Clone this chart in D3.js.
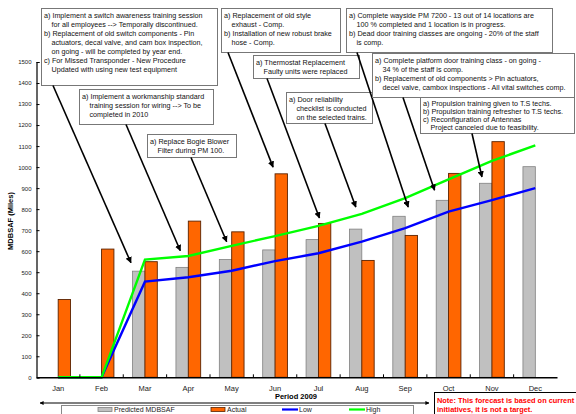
<!DOCTYPE html>
<html>
<head>
<meta charset="utf-8">
<script src="https://cdn.jsdelivr.net/npm/d3@7"></script>
<style>
  body { margin: 0; background: #fff; }
  svg { display: block; font-family: "Liberation Sans", Arial, sans-serif; }
</style>
</head>
<body>
<div id="chart"></div>
<script>
var width = 576,
    height = 414,
    margin = {top: 62, left: 36.5, right: 19, bottom: 36.7};

// data
var months = ["Jan","Feb","Mar","Apr","May","Jun","Jul","Aug","Sep","Oct","Nov","Dec"];
var predicted = [null, null, 505, 523, 560, 606, 655, 705, 766, 842, 923, 1002];
var actual = [370, 610, 550, 743, 692, 968, 732, 556, 675, 970, 1121, null];
var low = [0, 0, 455, 476, 507, 553, 590, 645, 710, 788, 843, 900];
var high = [0, 0, 560, 577, 625, 672, 720, 777, 852, 942, 1030, 1103];
var yTicks = d3.range(0, 1501, 100);

var noteTexts = [
  ["a) Implement a switch awareness training session", "   for all employees  --> Temporally discontinued.",
   "b) Replacement of old switch components - Pin", "   actuators, decal valve, and cam box inspection,",
   "   on going - will be completed by year end.", "c) For Missed Transponder - New Procedure",
   "   Updated with using new test equipment"],
  ["a) Implement a workmanship standard", "   training session for wiring --> To be", "   completed in 2010"],
  ["a) Replace Bogie Blower", "   Filter during PM 100."],
  ["a) Replacement of old style", "   exhaust - Comp.", "b) Installation of new robust brake", "   hose - Comp."],
  ["a) Thermostat Replacement", "   Faulty units were replaced"],
  ["a) Door reliability", "   checklist is conducted", "   on the selected trains."],
  ["a) Complete wayside PM 7200 - 13 out of 14 locations are", "   100 % completed and 1 location is in progress.",
   "b) Dead door training classes are ongoing - 20% of the staff", "   is comp."],
  ["a) Complete platform door training class - on going -", "   34 % of the staff is comp.",
   "b) Replacement of old components > Pin actuators,", "   decel valve, cambox inspections - All vital switches comp."],
  ["a) Propulsion training given to T.S techs.", "b) Propulsion training refresher to T.S techs.",
   "c) Reconfiguration of Antennas", "   Project canceled due to feasibility."]
];
// which month / value each note points at
var noteMonth = ["Mar","Apr","May","Jun","Jul","Aug","Sep","Oct","Nov"];
var noteValue = [545, 602, 645, 1000, 758, 810, 810, 890, 953];

// box layout: x, y, w, h, arrow start x, arrow tip dx, first baseline, line gap
var noteBoxes = [
  [41, 8, 176, 77, 53, -14, 9.5, 9],
  [79, 89, 134, 35, 126, -8, 9.5, 9],
  [147, 134, 89, 23, 191, -5, 9.5, 9],
  [221, 8, 119, 44, 228, -2, 9.5, 9],
  [253, 55, 106, 23, 267, 1, 9.5, 9],
  [286, 92, 86, 31, 325, -6, 9.5, 9],
  [346, 8, 206, 44, 357, 3, 9.5, 9],
  [372, 53, 202, 44, 403, -14, 10, 9],
  [420, 97, 154, 36, 472, -10, 8.8, 8.2]
];

var svg = d3.select("#chart").append("svg")
  .attr("width", width)
  .attr("height", height);

svg.append("defs").append("marker")
  .attr("id", "head")
  .attr("viewBox", "0 0 10 10")
  .attr("refX", 9).attr("refY", 5)
  .attr("markerWidth", 4).attr("markerHeight", 4)
  .attr("orient", "auto-start-reverse")
  .append("path")
  .attr("d", "M0,0L10,5L0,10z")
  .attr("fill", "#000");

var x = d3.scaleBand()
  .domain(months)
  .range([margin.left, width - margin.right]);

var y = d3.scaleLinear()
  .domain([0, 1500])
  .range([height - margin.bottom, margin.top]);

var bw = x.bandwidth() * 0.285;
var cx = function(m) { return x(m) + x.bandwidth() / 2; };

// y axis
var yAxis = svg.append("g")
  .attr("transform", "translate(" + margin.left + ",0)")
  .call(d3.axisLeft(y).tickValues(yTicks).tickFormat(d3.format("d")).tickSize(-3).tickPadding(5));
yAxis.select(".domain").attr("stroke", "#000").attr("stroke-width", 1.2);
yAxis.selectAll("text").style("font-size", "6px").attr("fill", "#222");

svg.append("text")
  .attr("transform", "translate(13,221) rotate(-90)")
  .attr("text-anchor", "middle")
  .style("font-size", "7.5px")
  .style("font-weight", "bold")
  .text("MDBSAF (Miles)");

// bars
svg.selectAll("rect.pred")
  .data(months.filter(function(m, i) { return predicted[i] != null; }))
  .enter().append("rect")
  .attr("class", "pred")
  .attr("x", function(m) { return cx(m) - bw; })
  .attr("y", function(m) { return y(predicted[months.indexOf(m)]); })
  .attr("width", bw)
  .attr("height", function(m) { return y(0) - y(predicted[months.indexOf(m)]); })
  .attr("fill", "#c0c0c0")
  .attr("stroke", "#808080")
  .attr("stroke-width", 0.8);

svg.selectAll("rect.act")
  .data(months.filter(function(m, i) { return actual[i] != null; }))
  .enter().append("rect")
  .attr("class", "act")
  .attr("x", function(m) { return cx(m); })
  .attr("y", function(m) { return y(actual[months.indexOf(m)]); })
  .attr("width", bw)
  .attr("height", function(m) { return y(0) - y(actual[months.indexOf(m)]); })
  .attr("fill", "#ff6600")
  .attr("stroke", "#5a2200")
  .attr("stroke-width", 0.9);

// lines
var line = d3.line()
  .x(function(d, i) { return cx(months[i]); })
  .y(function(d) { return y(d); });

svg.append("path").datum(low)
  .attr("d", line).attr("fill", "none")
  .attr("stroke", "#0000ff").attr("stroke-width", 2.4);
svg.append("path").datum(high)
  .attr("d", line).attr("fill", "none")
  .attr("stroke", "#00ff00").attr("stroke-width", 2.4);

// x axis
var xAxis = svg.append("g")
  .attr("transform", "translate(0," + y(0) + ")")
  .call(d3.axisBottom(x).tickSize(0).tickPadding(8));
xAxis.select(".domain").attr("stroke", "#000").attr("stroke-width", 1.5);
xAxis.selectAll("text").style("font-size", "7.5px").attr("fill", "#222");
xAxis.selectAll(".sep")
  .data(months.slice(1))
  .enter().append("line")
  .attr("x1", function(m) { return x(m); })
  .attr("x2", function(m) { return x(m); })
  .attr("y1", 0).attr("y2", -3)
  .attr("stroke", "#000");

svg.append("text")
  .attr("x", 296).attr("y", 399)
  .attr("text-anchor", "middle")
  .style("font-size", "7.5px")
  .style("font-weight", "bold")
  .text("Period 2009");

// annotations
noteTexts.forEach(function(lines, i) {
  var b = noteBoxes[i];
  var g = svg.append("g");
  g.append("rect")
    .attr("x", b[0] + 0.5).attr("y", b[1] + 0.5)
    .attr("width", b[2]).attr("height", b[3])
    .attr("fill", "#fff")
    .attr("stroke", "#777")
    .attr("stroke-width", 1);
  g.selectAll("text")
    .data(lines)
    .enter().append("text")
    .attr("x", function(t) { return b[0] + 3 + (t.indexOf("   ") === 0 ? 7.5 : 0); })
    .attr("y", function(t, j) { return b[1] + b[6] + j * b[7]; })
    .style("font-size", "7.2px")
    .attr("fill", "#111")
    .text(function(t) { return t.replace(/^ +/, ""); });
  svg.append("line")
    .attr("x1", b[4]).attr("y1", b[1] + b[3] + 0.5)
    .attr("x2", cx(noteMonth[i]) + b[5])
    .attr("y2", y(noteValue[i]))
    .attr("stroke", "#000")
    .attr("stroke-width", 1.6)
    .attr("marker-end", "url(#head)");
});

// legend
svg.append("line")
  .attr("x1", 40).attr("y1", 403)
  .attr("x2", 429).attr("y2", 403)
  .attr("stroke", "#000").attr("stroke-width", 1)
  .attr("marker-start", "url(#head)")
  .attr("marker-end", "url(#head)");

svg.append("rect")
  .attr("x", 61.5).attr("y", 405.5)
  .attr("width", 352).attr("height", 20)
  .attr("fill", "#fff").attr("stroke", "#888");

var legendItems = [
  {name: "Predicted MDBSAF", type: "bar", fill: "#c0c0c0", stroke: "#808080", x: 98},
  {name: "Actual", type: "bar", fill: "#ff6600", stroke: "#5a2200", x: 211},
  {name: "Low", type: "line", stroke: "#0000ff", x: 282},
  {name: "High", type: "line", stroke: "#00ff00", x: 349}
];
var lg = svg.selectAll("g.legend")
  .data(legendItems)
  .enter().append("g")
  .attr("class", "legend")
  .attr("transform", function(d) { return "translate(" + d.x + ",409.5)"; });
lg.filter(function(d) { return d.type === "bar"; })
  .append("rect")
  .attr("x", 0).attr("y", -2).attr("width", 14).attr("height", 4)
  .attr("fill", function(d) { return d.fill; })
  .attr("stroke", function(d) { return d.stroke; })
  .attr("stroke-width", 0.8);
lg.filter(function(d) { return d.type === "line"; })
  .append("line")
  .attr("x1", 0).attr("x2", 16).attr("y1", 0).attr("y2", 0)
  .attr("stroke", function(d) { return d.stroke; })
  .attr("stroke-width", 2.2);
lg.append("text")
  .attr("x", function(d) { return d.type === "bar" ? 16 : 17; })
  .attr("y", 2.5)
  .style("font-size", "7px")
  .attr("fill", "#222")
  .text(function(d) { return d.name; });

// note box
svg.append("rect")
  .attr("x", 434.5).attr("y", 392.5)
  .attr("width", 150).attr("height", 30)
  .attr("fill", "#fff").attr("stroke", "#000");
svg.selectAll("text.note")
  .data(["Note: This forecast is based on current", "initiatives, it is not a target."])
  .enter().append("text")
  .attr("class", "note")
  .attr("x", 437)
  .attr("y", function(d, i) { return 402.5 + i * 9; })
  .style("font-size", "7.4px")
  .style("font-weight", "bold")
  .attr("fill", "#ff0000")
  .text(function(d) { return d; });
</script>
</body>
</html>
